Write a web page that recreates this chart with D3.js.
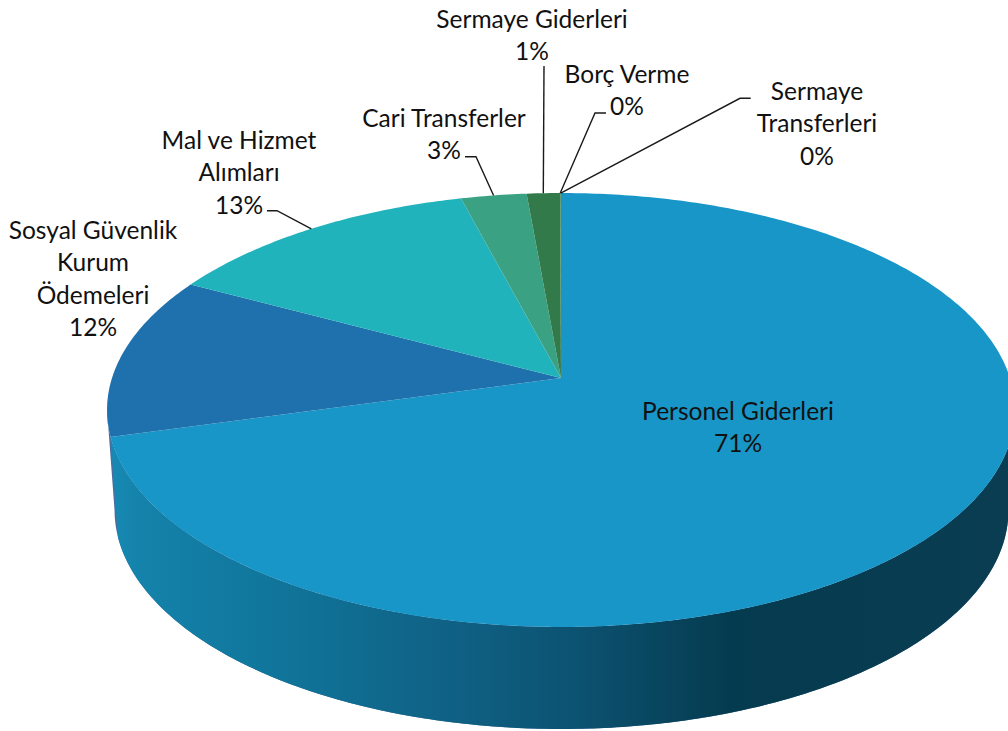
<!DOCTYPE html>
<html><head><meta charset="utf-8">
<script src="https://cdnjs.cloudflare.com/ajax/libs/d3/7.8.5/d3.min.js"></script>
<style>html,body{margin:0;padding:0;background:#fff}svg{display:block}text{font-family:Lato,"Open Sans",sans-serif;font-size:24.5px;fill:#111}</style>
</head><body><svg id="c" width="1008" height="731"></svg>
<script>
const categories = ["Personel Giderleri","Sosyal Güvenlik Kurum Ödemeleri","Mal ve Hizmet Alımları","Cari Transferler","Sermaye Giderleri","Borç Verme","Sermaye Transferleri"];
const labelLines = [["Personel Giderleri"],["Sosyal Güvenlik","Kurum","Ödemeleri"],["Mal ve Hizmet","Alımları"],["Cari Transferler"],["Sermaye Giderleri"],["Borç Verme"],["Sermaye","Transferleri"]];
const values = [70.7,12.1,13.1,2.7,1.36,0.02,0.02];
const colors = ["#1896c8","#1f71ad","#20b3bb","#3aa283","#337a4a","#337a4a","#337a4a"];
const percentLabels = ["71%","12%","13%","3%","1%","0%","0%"];

// layout (label anchor and leader elbows; leader ends come from the slice's mid angle)
const labelPos = [[738,420],[93,239],[239,149],[444,127],[532,28],[627,83],[817,100]];
const elbows = [null,null,[[267,210.7],[277,210.7]],[[465,156.7],[476,156.7]],[[544,66]],[[606,113],[595,113]],[[750.7,98.3],[740,98.3]]];
const lineH = 32.4;

const svg = d3.select("#c");
const cx=561, cy=378, c=-0.1475, a=156.5, A=449;
// perspective projection of a point on the pie rim, angle clockwise from 12 o'clock
const proj=(t,r=1)=>{const x=r*Math.sin(t),y=-r*Math.cos(t),d=1+c*y;return [cx+A*x/d,(a*y+cy)/d];};
const ex=561,ey=410,lx=561.5,ly=510,sx=447/454,sy=219/217;
const lower=t=>{const p=proj(t);return [lx+(p[0]-ex)*sx,ly+(p[1]-ey)*sy];};
const range=(t0,t1,n=240)=>d3.range(n+1).map(i=>t0+(t1-t0)*i/n);
const line=d3.line();

const arcs=d3.pie().sort(null).value(d=>d)(values);
const tR=98.5*Math.PI/180, tL=261.5*Math.PI/180;

const defs=svg.append("defs");
const grad=defs.append("linearGradient").attr("id","side").attr("gradientUnits","userSpaceOnUse")
  .attr("x1",107).attr("x2",1010).attr("y1",0).attr("y2",0);
[[0,"#178ab4"],[0.04,"#1482aa"],[0.2,"#107499"],[0.4,"#0f5f82"],[0.52,"#0c5271"],[0.69,"#053b4f"],[1,"#0a3d52"]]
 .forEach(s=>grad.append("stop").attr("offset",s[0]).attr("stop-color",s[1]));

// Side wall: full hull behind, then the front slice wall
svg.append("path").attr("fill","#4a6f9e")
  .attr("d",line([...range(tL,tR).map(t=>proj(t)),...range(tR,tL).map(lower)])+"Z");
const a0=arcs[0].endAngle;
svg.append("path").attr("fill","url(#side)")
  .attr("d",line([...range(a0,tR).map(t=>proj(t)),...range(tR,a0).map(lower)])+"Z");

// Top faces
svg.append("g").selectAll("path").data(arcs).join("path")
  .attr("fill",(d,i)=>colors[i])
  .attr("d",d=>{const n=Math.max(2,Math.ceil((d.endAngle-d.startAngle)*80));
    return line([[cx,cy],...range(d.startAngle,d.endAngle,n).map(t=>proj(t))])+"Z";});

// Leaders
arcs.forEach((d,i)=>{
  if(!elbows[i])return;
  const end=proj((d.startAngle+d.endAngle)/2);
  svg.append("path").attr("fill","none").attr("stroke","#1a1a1a").attr("stroke-width",1.4)
    .attr("d",line([...elbows[i],end]));
});

// Labels
const g=svg.append("g");
labelLines.forEach((ls,i)=>{
  const t=g.append("text").attr("text-anchor","middle");
  [...ls,percentLabels[i]].forEach((s,j)=>t.append("tspan").attr("x",labelPos[i][0]).attr("y",labelPos[i][1]+j*lineH).text(s));
});
</script></body></html>
